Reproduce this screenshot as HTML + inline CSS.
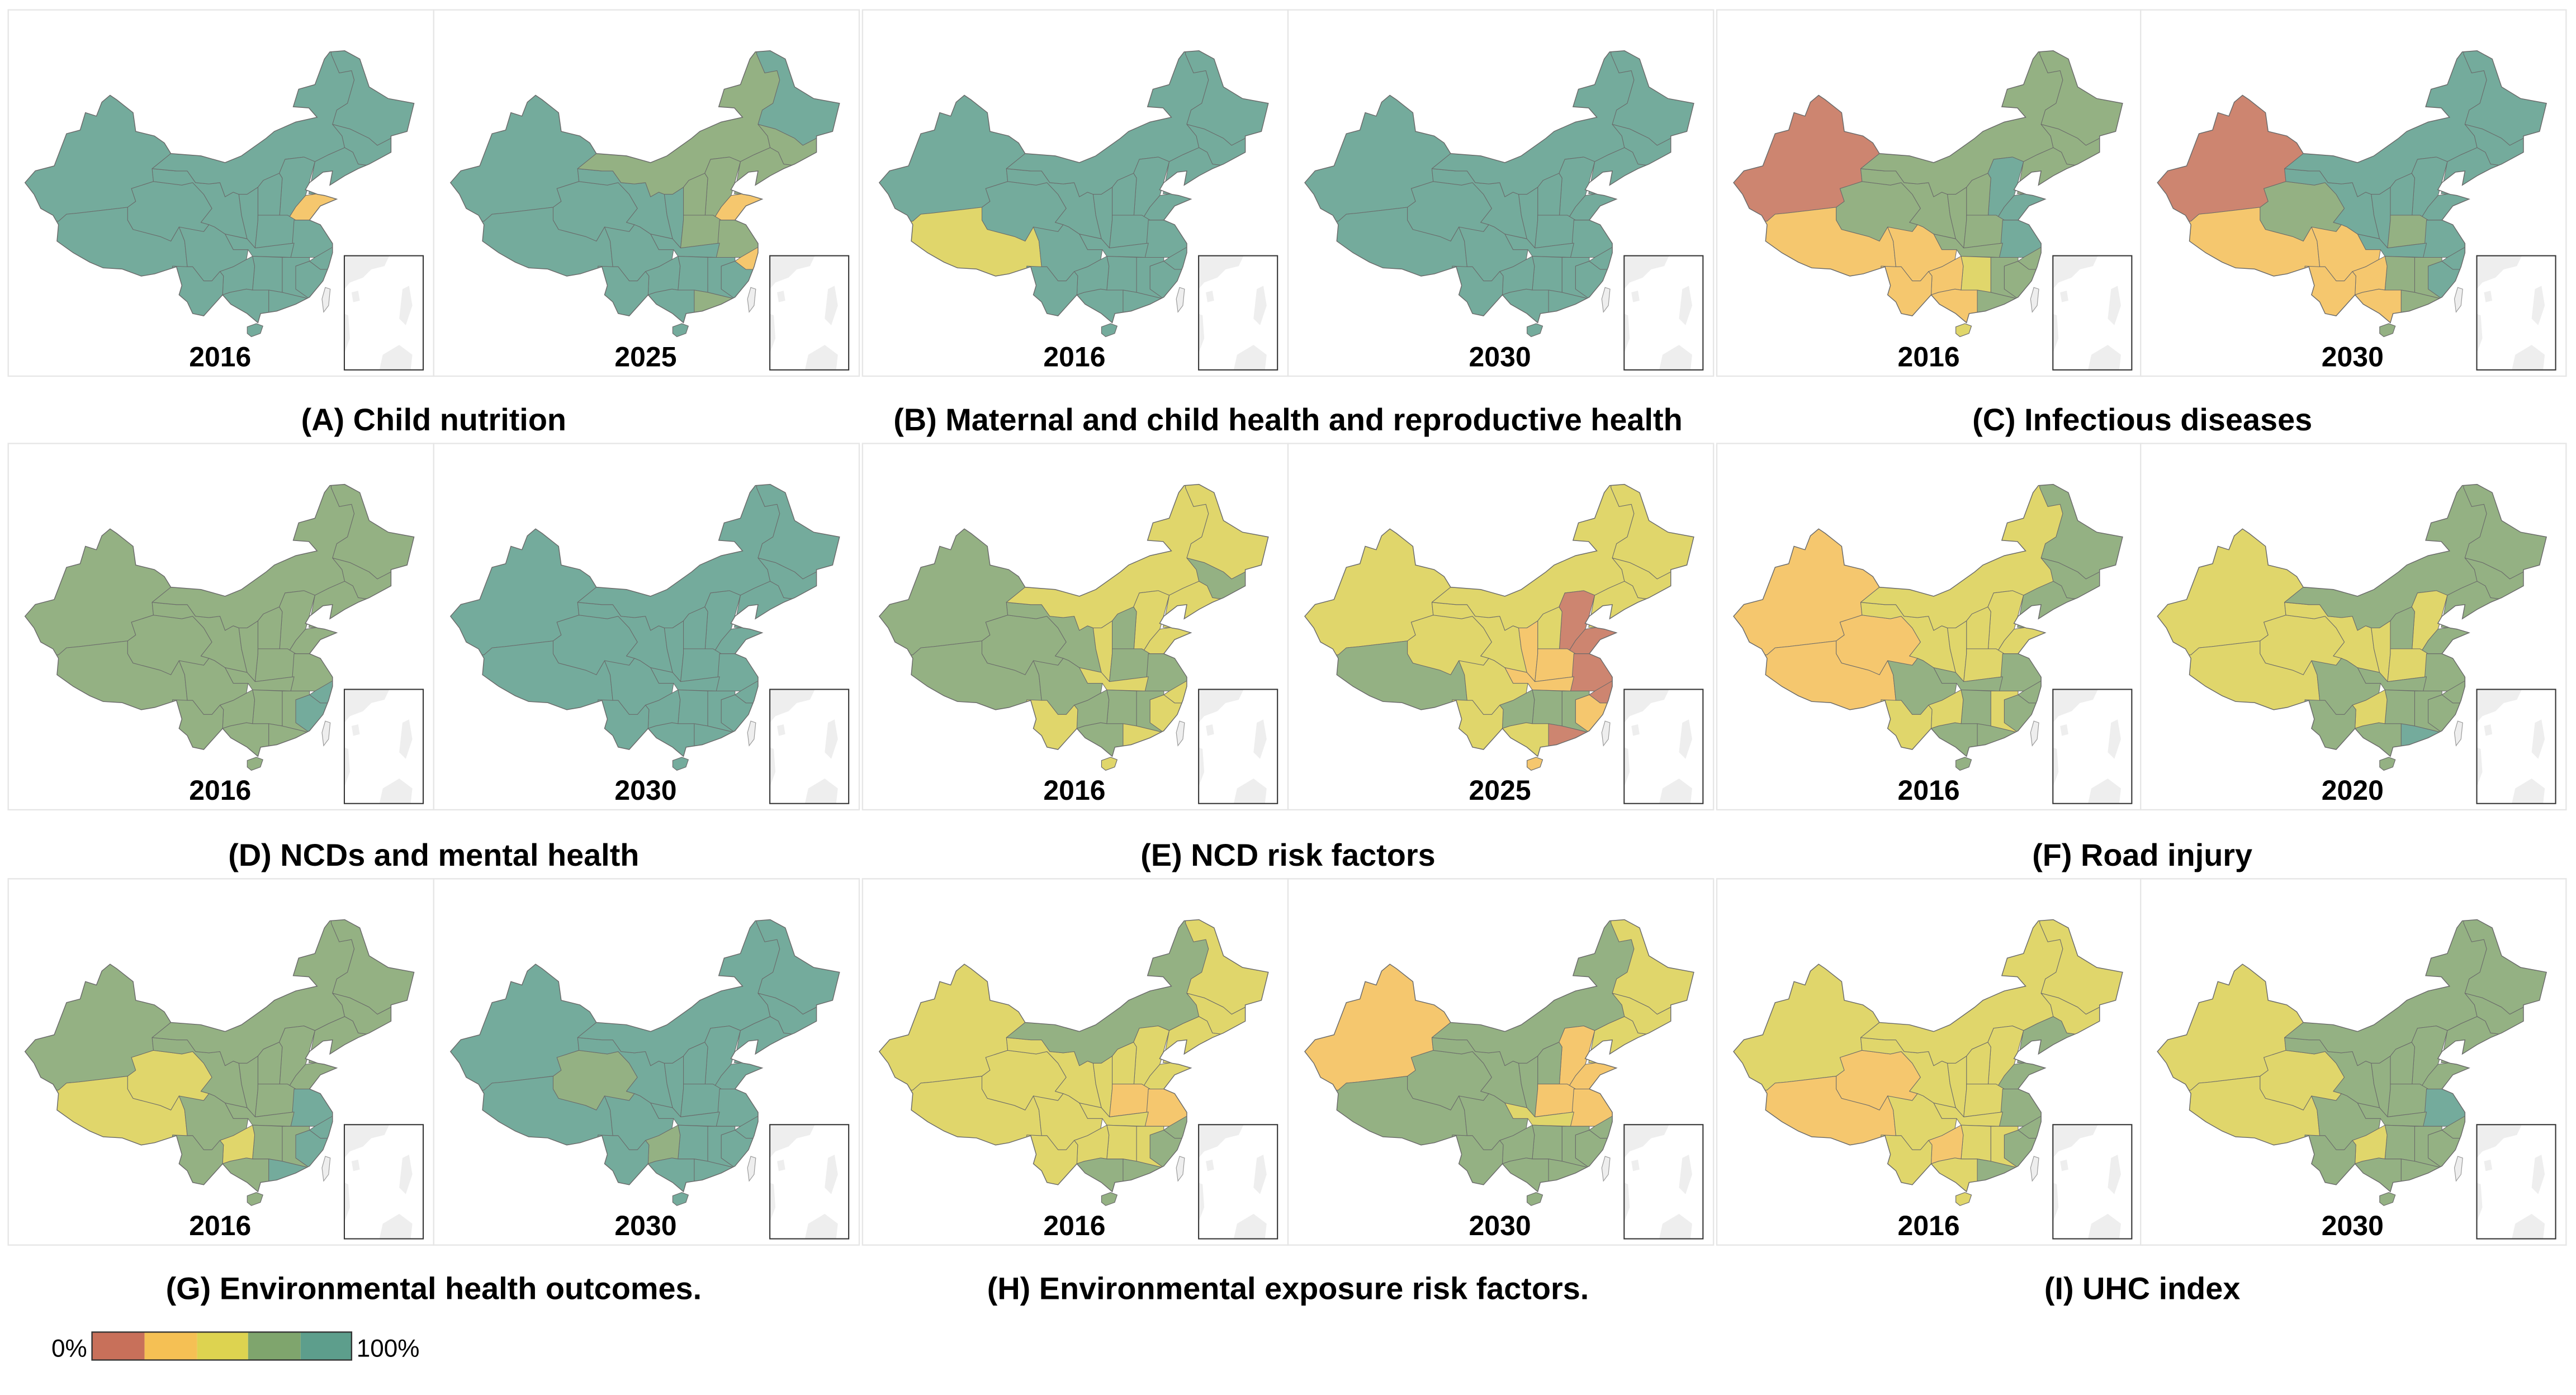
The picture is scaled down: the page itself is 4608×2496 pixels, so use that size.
<!DOCTYPE html>
<html><head><meta charset="utf-8"><style>
html,body{margin:0;padding:0;background:#fff;}
svg{display:block;}
text{font-family:"Liberation Sans",sans-serif;}
</style></head><body>
<svg id="fig" width="4608" height="2496" viewBox="0 0 1568 849.3" preserveAspectRatio="none" xmlns="http://www.w3.org/2000/svg">
<defs>
<clipPath id="chinaClip"><path id="clipOutline" d=""/></clipPath>
</defs>
<g id="panels"></g>
<g id="legend">
  <text x="53" y="826" text-anchor="end" font-size="15">0%</text>
  <rect x="56" y="811" width="32" height="17" fill="#c8705a"/>
  <rect x="88" y="811" width="32" height="17" fill="#f5c054"/>
  <rect x="120" y="811" width="31" height="17" fill="#ddd350"/>
  <rect x="151" y="811" width="32" height="17" fill="#7fa56d"/>
  <rect x="183" y="811" width="31" height="17" fill="#5d9e8c"/>
  <rect x="56" y="811" width="158" height="17" fill="none" stroke="#333" stroke-width="0.8"/>
  <text x="217" y="826" font-size="15">100%</text>
</g>
</svg>
<script>
const regionNames = ["xinjiang","tibet","qinghai","gansu","inner-mongolia","heilongjiang","jilin","liaoning","hebei","shanxi","shaanxi","shandong","henan","jiangsu-anhui","hubei","sichuan","zhejiang","fujian","jiangxi","hunan","guizhou","yunnan","guangxi","guangdong","hainan"];
const years = ["2016","2025","2016","2030","2016","2030","2016","2030","2016","2025","2016","2020","2016","2030","2016","2030","2016","2030"];
const groupTitles = ["(A) Child nutrition","(B) Maternal and child health and reproductive health","(C) Infectious diseases","(D) NCDs and mental health","(E) NCD risk factors","(F) Road injury","(G) Environmental health outcomes.","(H) Environmental exposure risk factors.","(I) UHC index"];
// values: 0=0-20%,1,2,3,4=80-100%
const A2016=[4,4,4,4,4,4,4,4,4,4,4,1,4,4,4,4,4,4,4,4,4,4,4,4,4];
const A2025=[4,4,4,4,3,4,3,3,3,3,4,1,3,3,4,4,1,4,4,4,4,4,4,3,4];
const B2016=[4,2,4,4,4,4,4,4,4,4,4,4,4,4,4,4,4,4,4,4,4,4,4,4,4];
const B2030=[4,4,4,4,4,4,4,4,4,4,4,4,4,4,4,4,4,4,4,4,4,4,4,4,4];
const C2016=[0,1,3,3,3,3,3,3,4,3,3,4,3,4,3,1,3,3,3,2,1,1,1,3,2];
const C2030=[0,1,3,4,4,4,4,4,4,4,4,4,3,4,4,1,4,4,3,3,1,1,1,3,3];
const D2016=[3,3,3,3,3,3,3,3,3,3,3,3,3,3,3,3,4,4,3,3,3,3,3,3,3];
const D2030=[4,4,4,4,4,4,4,4,4,4,4,4,4,4,4,4,4,4,4,4,4,4,4,4,4];
const E2016=[3,3,3,3,2,2,3,2,2,3,2,2,3,3,2,3,2,2,3,3,3,2,3,2,2];
const E2025=[2,3,2,2,2,2,2,2,0,2,1,0,1,0,1,2,0,1,3,3,3,2,2,0,1];
const F2016=[1,1,1,2,2,3,3,3,2,2,2,2,2,3,3,3,3,3,2,3,2,2,3,3,3];
const F2020=[2,2,2,2,3,3,3,3,2,3,2,3,2,3,3,3,3,3,3,3,2,3,3,4,3];
const G2016=[3,2,2,3,3,3,3,3,3,3,3,3,3,4,3,3,4,4,3,3,2,3,3,4,3];
const G2030=[4,4,3,4,4,4,4,4,4,4,4,4,4,4,4,4,4,4,4,4,3,4,4,4,4];
const H2016=[2,2,2,2,3,2,2,2,2,2,2,2,1,1,2,2,3,3,2,2,2,2,3,3,3];
const H2030=[1,3,3,3,3,2,2,2,1,3,3,1,1,1,2,3,3,3,3,3,3,3,3,3,3];
const I2016=[2,1,1,2,2,2,2,3,2,2,2,3,2,3,2,2,3,3,2,2,1,2,2,3,2];
const I2030=[2,2,2,3,3,3,3,3,3,3,3,3,3,4,3,3,3,3,3,3,2,3,3,3,3];
const panelValues=[A2016,A2025,B2016,B2030,C2016,C2030,D2016,D2030,E2016,E2025,F2016,F2020,G2016,G2030,H2016,H2030,I2016,I2030];

const mapColors=["#cd8570","#f5c76e","#e0d66b","#94b183","#74ab9c"];
const NS="http://www.w3.org/2000/svg";
const outline=[[10.2,105.2],[16.5,98],[28,95],[35.5,75.4],[43.8,73.2],[47,62.6],[53.7,64.7],[57,56.2],[62,52],[66,54.7],[76,62.6],[77.6,74],[89,76.8],[95,81],[99,87.5],[117.3,88.9],[132,93],[142,88.9],[157,78.2],[162,74],[175,68.3],[188,65.4],[183,59.7],[173.5,59],[176.8,48.3],[186.7,45.5],[192.5,29.9],[195.8,25.6],[204.8,24.9],[214,29.9],[219.7,46.9],[231.3,54],[247,56.9],[242.8,74],[233,76.8],[233,86.7],[219.7,93.9],[213,96.7],[204.8,101],[195.8,106.7],[197.4,98.1],[191.6,98.8],[183.4,105.2],[180.9,109.5],[188.3,112.3],[192.5,113],[199.9,115.2],[190,119.4],[183.4,128],[190,130.8],[197.4,142.2],[197.4,147.9],[195,156.4],[191.6,165],[183.4,174.9],[175,179.2],[163.5,183.4],[153.6,184.9],[152,190.5],[145.4,184.9],[135.5,179.2],[130.5,173.5],[119,186.3],[112.3,184.9],[109,177.8],[104,173.5],[105.7,167.8],[102.4,156.4],[89.2,160.7],[81,162.1],[69.4,157.8],[57.8,157.1],[49.6,153.6],[39.6,147.9],[29.7,140.8],[30.6,130.8],[27.3,125.1],[19.8,120.9],[15.7,112.3]];
const regions=[
 [[0,0],[99,0],[99,87.5],[87.6,96.7],[88.4,104.5],[75,108.8],[77.6,116.6],[72.7,120.2],[43,123.7],[35.5,124.4],[30.6,128.7],[0,130]],
 [[0,128],[30.6,128.7],[35.5,124.4],[43,123.7],[72.7,120.2],[72.7,128],[76,133.7],[92.5,138],[99,140.8],[104,132.2],[107.4,140.8],[109,156.4],[105,200],[0,200]],
 [[75,108.8],[88.4,104.5],[105.7,106.7],[112.3,105.2],[119,112.3],[124,120.9],[117.3,129.4],[122.2,130.8],[119,135],[109,136.5],[104,132.2],[99,140.8],[92.5,138],[76,133.7],[72.7,128],[72.7,120.2],[77.6,116.6]],
 [[87.6,96.7],[102.4,98.1],[109,98.1],[114,105.2],[122.2,106],[128.9,105.2],[132,113.8],[137,111],[140.4,112.3],[142,125],[145.4,139.4],[132,136.5],[125.6,132.2],[122.2,130.8],[117.3,129.4],[124,120.9],[119,112.3],[112.3,105.2],[105.7,106.7],[88.4,104.5]],
 [[99,0],[196.6,0],[196.6,27],[201.5,38.4],[209,37],[210.6,42.7],[206.5,56.9],[200,61],[197.4,69.7],[203.2,76.8],[204.8,83.9],[195,88.2],[186.7,92.4],[180,89.6],[168.5,91],[165,99.5],[155.3,103.8],[152,108],[145.4,112.3],[140.4,112.3],[137,111],[132,113.8],[128.9,105.2],[122.2,106],[114,105.2],[109,98.1],[102.4,98.1],[87.6,96.7],[99,87.5]],
 [[196.6,0],[260,0],[260,78],[233,78.2],[224.7,82.5],[219.7,78.2],[208,72.5],[197.4,69.7],[200,61],[206.5,56.9],[210.6,42.7],[209,37],[201.5,38.4],[196.6,27]],
 [[197.4,69.7],[208,72.5],[219.7,78.2],[224.7,82.5],[233,78.2],[260,78],[260,100],[213,93.9],[209.8,86.7],[204.8,83.9],[203.2,76.8]],
 [[186.7,92.4],[195,88.2],[204.8,83.9],[209.8,86.7],[213,93.9],[260,100],[260,115],[183,112]],
 [[165,99.5],[168.5,91],[180,89.6],[186.7,92.4],[183,106],[181,113],[175,120],[170,128],[165,128],[166.8,102.4]],
 [[152,108],[155.3,103.8],[165,99.5],[166.8,102.4],[165,128],[152,128]],
 [[140.4,112.3],[145.4,112.3],[152,108],[152,128],[150.3,145],[145.4,139.4],[142,125]],
 [[170,128],[175,120],[181,113],[188,112],[205,112],[205,120],[190,122],[183.4,128],[175,128]],
 [[152,125],[170,125],[175,128],[174,142],[150.3,145],[152,128]],
 [[174,128],[183.4,128],[190,130.8],[205,142],[200,148],[186.7,150.7],[172,150.7],[173,142]],
 [[145.4,139.4],[150.3,145],[174,142],[172,150.7],[148.7,150],[146,146],[137,146],[132,136.5]],
 [[104,132.2],[119,135],[122.2,130.8],[125.6,132.2],[132,136.5],[137,146],[146,146],[145,152],[137,156.4],[128.9,159.3],[124,165],[119,165],[112.3,156.4],[109,156.4],[107.4,140.8]],
 [[186.7,150.7],[200,143],[205,143],[205,158],[190,158],[183.4,153]],
 [[175,156],[183.4,153],[190,158],[205,158],[205,180],[183.4,176],[175,170]],
 [[166.8,150.7],[183.4,150.7],[183.4,153],[175,156],[175,170],[183.4,176],[166.8,172]],
 [[148.7,150],[166.8,150.7],[166.8,172],[158.6,170.6],[148.7,170.6],[150,156]],
 [[128.9,159.3],[137,156.4],[145,152],[148.7,150],[150,156],[148.7,170.6],[145,170],[135,172],[130.5,173.5],[131,162]],
 [[100,156],[109,156.4],[112.3,156.4],[119,165],[124,165],[128.9,159.3],[131,162],[130.5,173.5],[130,200],[100,200]],
 [[130.5,173.5],[135,172],[145,170],[148.7,170.6],[158.6,170.6],[158.6,200],[130,200]],
 [[158.6,170.6],[166.8,172],[183.4,176],[200,180],[200,200],[158.6,200]]
];
const hainan=[[145.5,193],[151,191],[155,192.5],[153.5,197],[148,199],[145.5,197]];
const taiwan=[[193,169],[196,170],[195,180],[192,184],[191,176]];
const PW=259, PH=223;
const colX=[5,264,525,784,1045,1303];
const rowY=[6,270,535];
function pts(a){return a.map(p=>p[0]+","+p[1]).join(" ");}
function mk(tag,attrs,parent){const e=document.createElementNS(NS,tag);for(const k in attrs)e.setAttribute(k,attrs[k]);parent.appendChild(e);return e;}
const root=document.getElementById("panels");
document.getElementById("clipOutline").setAttribute("d","M"+outline.map(p=>p.join(",")).join(" L")+"Z");

for(let i=0;i<18;i++){
  const r=Math.floor(i/6), c=i%6;
  const ox=colX[c], oy=rowY[r];
  const vals=panelValues[i];
  const g=mk("g",{},root);
  
  
  const fr=mk("rect",{x:ox,y:oy,width:PW,height:PH,fill:"#fff",stroke:"#e6e6e6","stroke-width":0.8},g);
  
  
  const mg=mk("g",{transform:"translate("+ox+","+oy+")"},g);
  const cg=mk("g",{"clip-path":"url(#chinaClip)"},mg);
  regions.forEach((reg,k)=>{
    const p=mk("polygon",{points:pts(reg),fill:mapColors[vals[k]],stroke:"#6a6a6a","stroke-width":0.35,"stroke-linejoin":"round"},cg);
    
    
  });
  const ol=mk("polygon",{points:pts(outline),fill:"none",stroke:"#6a6a6a","stroke-width":0.5},mg);
  
  
  const hn=mk("polygon",{points:pts(hainan),fill:mapColors[vals[24]],stroke:"#6a6a6a","stroke-width":0.4},mg);
  
  
  const tw=mk("polygon",{points:pts(taiwan),fill:"#eeeeee",stroke:"#999","stroke-width":0.4},mg);
  
  
  const ins=mk("g",{},mg);
  
  
  mk("polygon",{points:"204.6,149.7 232,149.7 229,156 221,158 216,163 208,166 204.6,170",fill:"#eeeeee"},ins);
  mk("polygon",{points:"209,172 213,171 214,177 210,178",fill:"#eeeeee"},ins);
  mk("polygon",{points:"204.6,185 207,186 208,200 205,208 204.6,208",fill:"#eeeeee"},ins);
  mk("polygon",{points:"240,170 244,168 246,180 242,192 238,188",fill:"#eeeeee"},ins);
  mk("polygon",{points:"228,210 238,204 246,210 245,219 226,219",fill:"#eeeeee"},ins);
  mk("rect",{x:204.6,y:149.7,width:48,height:69.5,fill:"none",stroke:"#333","stroke-width":0.7},ins);
  const yt=mk("text",{x:ox+129,y:oy+217,"text-anchor":"middle","font-size":17,"font-weight":"bold"},g);
  yt.textContent=years[i];
  
  
}
const titleY=[262,527,791];
for(let j=0;j<9;j++){
  const r=Math.floor(j/3), c=j%3;
  const cx=colX[c*2]+PW;
  const t=mk("text",{x:cx,y:titleY[r],"text-anchor":"middle","font-size":19,"font-weight":"bold"},root);
  t.textContent=groupTitles[j];
  
  
}
</script>
</body></html>
